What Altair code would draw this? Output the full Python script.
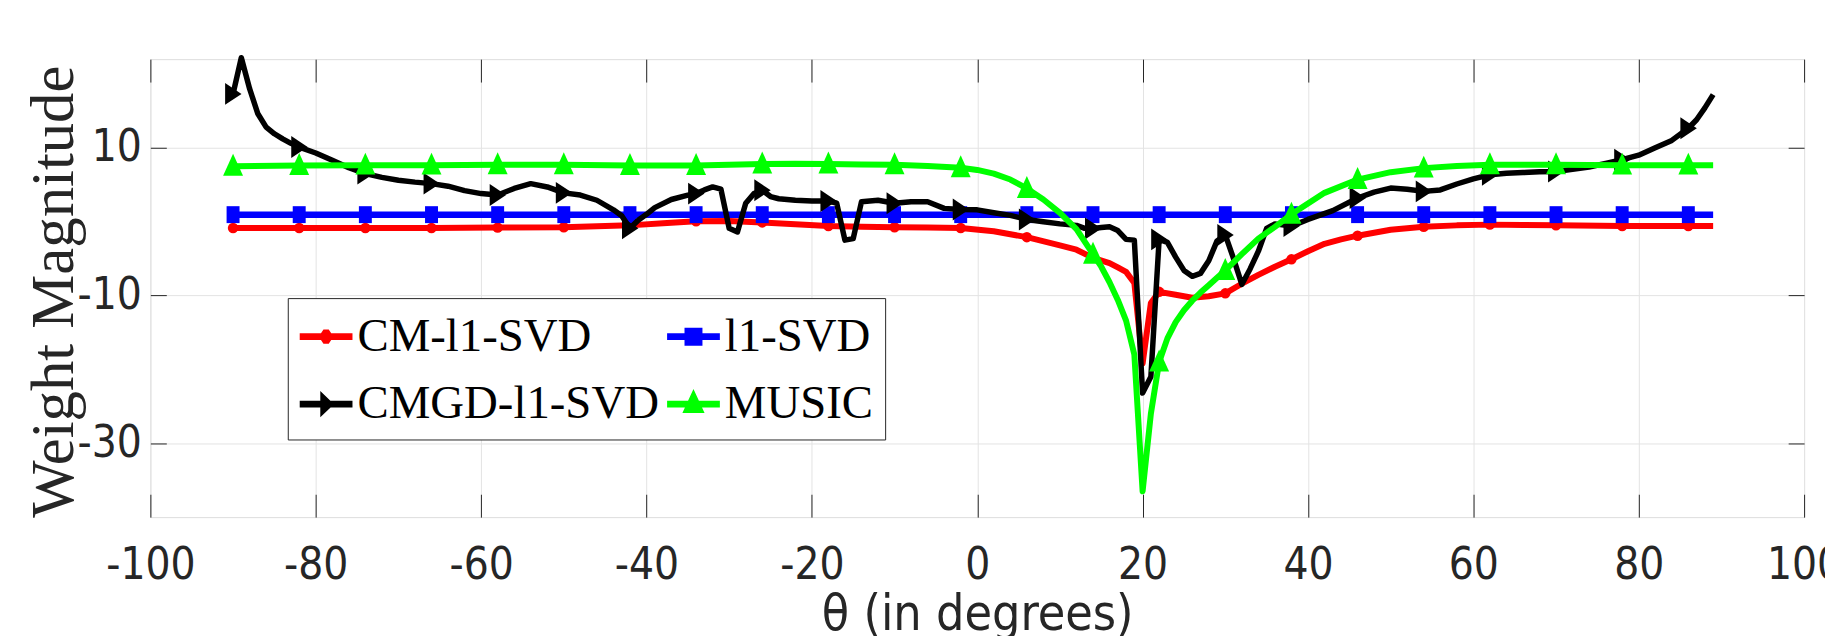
import altair as alt
import pandas as pd

# ---------------- data ----------------
X_TICKS = [-100, -80, -60, -40, -20, 0, 20, 40, 60, 80, 100]
Y_TICKS = [-30, -10, 10]
MARKER_THETA = [-90, -82, -74, -66, -58, -50, -42, -34, -26, -18, -10, -2,
                6, 14, 22, 30, 38, 46, 54, 62, 70, 78, 86]

SERIES = ["CM-l1-SVD", "l1-SVD", "CMGD-l1-SVD", "MUSIC"]
COLORS = ["#ff0000", "#0000ff", "#000000", "#00ff00"]

RED = [(-90, -0.85), (-82, -0.85), (-74, -0.85), (-66, -0.85), (-58, -0.8),
       (-50, -0.75), (-42, -0.5), (-38, -0.2), (-34, 0.05), (-30, 0.1),
       (-26, -0.1), (-22, -0.35), (-18, -0.6), (-14, -0.7), (-10, -0.75),
       (-6, -0.8), (-2, -0.85), (2, -1.3), (6, -2.1), (10, -3.2), (12, -3.8),
       (14, -4.9), (16, -5.6), (17, -6.2), (18, -6.8), (19, -8.3), (20, -19.2),
       (21, -11.0), (22, -9.5), (24, -9.9), (26, -10.3), (28, -10.1), (30, -9.7),
       (32, -8.4), (34, -7.2), (36, -6.1), (38, -5.1), (40, -4.0), (42, -3.0),
       (44, -2.4), (46, -1.9), (50, -1.1), (54, -0.7), (58, -0.5), (62, -0.4),
       (66, -0.45), (70, -0.5), (78, -0.6), (86, -0.6), (89, -0.6)]

BLUE = [(-90, 0.95), (-82, 0.95), (-74, 0.95), (-66, 0.95), (-58, 0.95),
        (-50, 0.95), (-42, 0.95), (-34, 0.95), (-26, 0.95), (-18, 0.95),
        (-10, 0.95), (-2, 0.95), (6, 0.95), (14, 0.95), (22, 0.95), (30, 0.95),
        (38, 0.95), (46, 0.95), (54, 0.95), (62, 0.95), (70, 0.95), (78, 0.95),
        (86, 0.95), (89, 0.95)]

BLACK = [(-90, 17.3), (-89, 22.2), (-88, 18.0), (-87, 14.6), (-86, 12.8),
         (-85, 11.9), (-84, 11.2), (-83, 10.6), (-82, 10.1), (-80, 9.3),
         (-78, 8.3), (-76, 7.3), (-74, 6.5), (-72, 6.0), (-70, 5.6), (-68, 5.35),
         (-66, 5.15), (-64, 4.8), (-62, 4.2), (-60, 3.8), (-58, 3.6), (-56, 4.5),
         (-54, 5.15), (-52, 4.7), (-50, 3.9), (-48, 3.6), (-46, 2.9), (-44, 1.6),
         (-43, 0.8), (-42, -0.9), (-41, 0.2), (-40, 1.0), (-39, 1.9), (-37, 3.0),
         (-35, 3.6), (-34, 3.8), (-33, 4.3), (-32, 4.7), (-31, 4.4), (-30, -0.9),
         (-29, -1.4), (-28, 2.5), (-27, 3.8), (-26, 4.25), (-25, 3.4), (-24, 3.1),
         (-22, 2.9), (-20, 2.8), (-18, 2.8), (-17, 2.5), (-16, -2.5), (-15, -2.3),
         (-14, 2.7), (-12, 2.9), (-10, 2.5), (-8, 2.7), (-6, 2.7), (-4, 1.8),
         (-2, 1.65), (0, 1.6), (2, 1.2), (4, 0.85), (6, 0.3), (8, 0.0),
         (10, -0.3), (12, -0.5), (13, -0.9), (14, -0.92), (15, -0.8), (16, -0.7),
         (17, -1.2), (18, -2.4), (19, -2.5), (20, -23.2), (21, -21.0), (22, -2.4),
         (23, -2.8), (24, -4.8), (25, -6.6), (26, -7.4), (27, -7.0), (28, -5.3),
         (29, -2.6), (30, -1.8), (31, -5.0), (32, -8.5), (33, -6.4), (34, -4.0),
         (35, -0.9), (36, -0.3), (38, -0.6), (40, 0.3), (43, 1.5), (46, 3.2),
         (48, 4.0), (50, 4.55), (52, 4.4), (54, 4.1), (56, 4.3), (58, 5.1),
         (60, 5.8), (62, 6.35), (64, 6.55), (66, 6.65), (68, 6.75), (70, 6.8),
         (72, 7.1), (74, 7.4), (76, 7.9), (78, 8.4), (80, 9.0), (82, 10.0),
         (84, 11.0), (86, 12.65), (87, 13.8), (88, 15.4), (89, 17.2)]

GREEN = [(-90, 7.5), (-82, 7.6), (-74, 7.65), (-66, 7.65), (-58, 7.7),
         (-50, 7.7), (-42, 7.6), (-34, 7.6), (-30, 7.7), (-26, 7.8), (-22, 7.85),
         (-18, 7.8), (-14, 7.75), (-10, 7.7), (-6, 7.55), (-2, 7.3), (0, 7.0),
         (2, 6.5), (4, 5.7), (6, 4.5), (8, 3.0), (10, 1.2), (12, -1.0),
         (14, -4.4), (15, -6.1), (16, -8.2), (17, -10.6), (18, -13.4), (19, -18.0),
         (20, -36.5), (21, -26.0), (22, -19.0), (23, -15.8), (24, -13.6),
         (25, -12.0), (26, -10.7), (27, -9.6), (28, -8.6), (29, -7.6), (30, -6.6),
         (32, -4.4), (34, -2.3), (36, -0.7), (38, 1.0), (42, 3.9), (46, 5.7),
         (50, 6.7), (54, 7.25), (58, 7.55), (62, 7.7), (70, 7.7), (78, 7.65),
         (86, 7.65), (89, 7.65)]

# ---------------- styling ----------------
SANS = "'Liberation Sans Narrow', 'DejaVu Sans Condensed', 'Liberation Sans', sans-serif"
SERIF = "'Liberation Serif', serif"
INK = "#262626"
GRID = "#e3e3e3"

W, H = 1661, 460
XS = alt.Scale(domain=[-100, 100], nice=False, zero=False)
YS = alt.Scale(domain=[-40, 22], nice=False, zero=False)

# marker glyphs (custom paths, unit = sqrt(size)/2)
MARK_RED = "circle"
MARK_BLUE = "M-0.65,-0.85L0.65,-0.85L0.65,0.85L-0.65,0.85Z"
MARK_BLACK = "M-0.8,-1.1L0.85,0L-0.8,1.1Z"
MARK_GREEN = "M0,-1.25L1,0.95L-1,0.95Z"

BAR = "M-1,-0.13L1,-0.13L1,0.13L-1,0.13Z"
LEGEND_PATHS = [
    BAR + "M-0.1,-0.27L0.1,-0.27L0.2,-0.12L0.2,0.12L0.1,0.27L-0.1,0.27L-0.2,0.12L-0.2,-0.12Z",
    BAR + "M-0.34,-0.34L0.34,-0.34L0.34,0.34L-0.34,0.34Z",
    BAR + "M-0.22,-0.5L0.3,0L-0.22,0.5Z",
    BAR + "M0,-0.57L0.42,0.34L-0.42,0.34Z",
]


def frame(pairs, name):
    return pd.DataFrame({"theta": [p[0] for p in pairs],
                         "val": [p[1] for p in pairs],
                         "series": name})


LABEL_EXPR = "'' + datum.value"

X_MAIN = alt.Axis(values=X_TICKS, orient="bottom", offset=-23, tickSize=23,
                  ticks=True, tickColor=INK, tickWidth=1, domain=False,
                  grid=True, gridColor=GRID, gridWidth=1,
                  labelFont=SANS, labelFontSize=44, labelColor=INK,
                  labelPadding=27, labelFlush=False, labelOverlap=False,
                  labelExpr=LABEL_EXPR,
                  title="θ (in degrees)", titleFont=SANS, titleFontSize=50,
                  titleFontWeight="normal", titleColor=INK,
                  titleX=W / 2, titleY=136, titleBaseline="alphabetic",
                  titleAlign="center")
Y_MAIN = alt.Axis(values=Y_TICKS, orient="left", offset=-16, tickSize=16,
                  ticks=True, tickColor=INK, tickWidth=1, domain=False,
                  grid=True, gridColor=GRID, gridWidth=1,
                  labelFont=SANS, labelFontSize=44, labelColor=INK,
                  labelPadding=9, labelExpr=LABEL_EXPR,
                  title="Weight Magnitude", titleFont=SERIF, titleFontSize=61,
                  titleFontWeight="normal", titleColor=INK,
                  titleAngle=270, titleX=-94, titleY=233,
                  titleBaseline="alphabetic", titleAlign="center")
X_TOP = alt.Axis(values=X_TICKS, orient="top", offset=-23, tickSize=23,
                 ticks=True, tickColor=INK, tickWidth=1, domain=False,
                 grid=False, labels=False, title=None)
Y_RIGHT = alt.Axis(values=Y_TICKS, orient="right", offset=-16, tickSize=16,
                   ticks=True, tickColor=INK, tickWidth=1, domain=False,
                   grid=False, labels=False, title=None)


def line_layer(df, color, width, x_axis=None, y_axis=None):
    return alt.Chart(df).mark_line(
        color=color, strokeWidth=width, strokeJoin="round", strokeCap="butt"
    ).encode(
        x=alt.X("theta:Q", scale=XS, axis=x_axis),
        y=alt.Y("val:Q", scale=YS, axis=y_axis),
        order="theta:Q",
    )


def marker_layer(df, color, shape, size):
    return alt.Chart(df).transform_filter(
        alt.FieldOneOfPredicate(field="theta", oneOf=MARKER_THETA)
    ).mark_point(
        filled=True, opacity=1, color=color, shape=shape, size=size, strokeWidth=0
    ).encode(
        x=alt.X("theta:Q", scale=XS, axis=None),
        y=alt.Y("val:Q", scale=YS, axis=None),
    )


red, blue, black, green = (frame(RED, SERIES[0]), frame(BLUE, SERIES[1]),
                           frame(BLACK, SERIES[2]), frame(GREEN, SERIES[3]))

legend_df = pd.DataFrame({"theta": [None, None, None, None],
                          "val": [None, None, None, None],
                          "series": SERIES})

LEG = alt.Legend(orient="none", legendX=138, legendY=240, columns=2,
                 direction="horizontal",
                 title=None, symbolSize=2809, symbolStrokeWidth=0,
                 symbolOpacity=1, labelFont=SERIF, labelFontSize=47,
                 labelColor="black", labelLimit=600, labelOffset=5,
                 padding=12, rowPadding=18, columnPadding=8,
                 strokeColor=INK, fillColor="white", cornerRadius=0)

legend_layer = alt.Chart(legend_df).mark_point(
    filled=True, opacity=1, strokeWidth=0
).encode(
    x=alt.X("theta:Q", scale=XS, axis=None),
    y=alt.Y("val:Q", scale=YS, axis=None),
    color=alt.Color("series:N", scale=alt.Scale(domain=SERIES, range=COLORS),
                    legend=LEG),
    shape=alt.Shape("series:N", scale=alt.Scale(domain=SERIES, range=LEGEND_PATHS),
                    legend=LEG),
)

tick_layer = alt.Chart(blue).mark_line(opacity=0).encode(
    x=alt.X("theta:Q", scale=XS, axis=X_TOP),
    y=alt.Y("val:Q", scale=YS, axis=Y_RIGHT),
)

chart = alt.layer(
    line_layer(red, COLORS[0], 6, X_MAIN, Y_MAIN),
    marker_layer(red, COLORS[0], MARK_RED, 110),
    line_layer(blue, COLORS[1], 6.5),
    marker_layer(blue, COLORS[1], MARK_BLUE, 400),
    line_layer(black, COLORS[2], 5.5),
    marker_layer(black, COLORS[2], MARK_BLACK, 400),
    line_layer(green, COLORS[3], 6),
    marker_layer(green, COLORS[3], MARK_GREEN, 400),
    tick_layer,
    legend_layer,
).resolve_axis(
    x="independent", y="independent"
).properties(
    width=W, height=H,
    autosize=alt.AutoSizeParams(type="none"),
    padding={"left": 143, "top": 50, "right": 21, "bottom": 118},
).configure_view(
    stroke=INK, strokeWidth=1.5
).configure(background="white")

chart.save("out.html", embed_options={"renderer": "svg", "actions": False})
